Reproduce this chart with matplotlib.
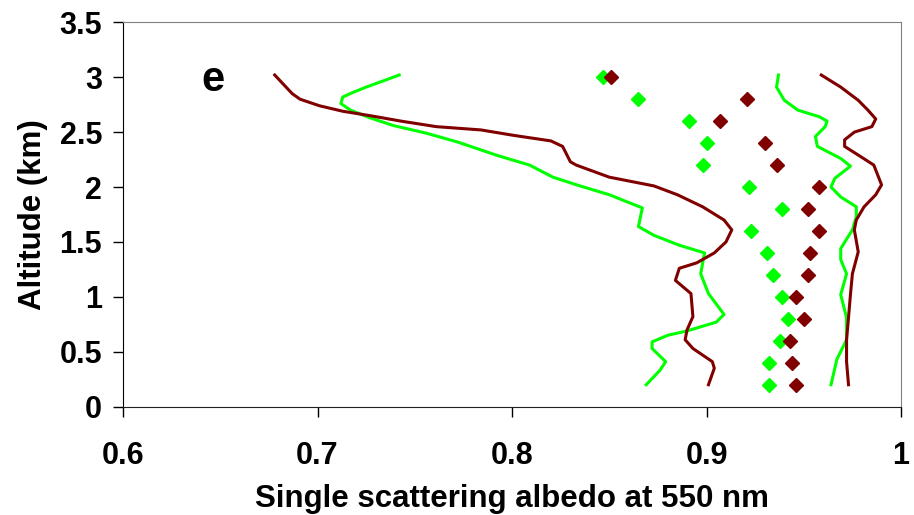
import matplotlib.pyplot as plt

plt.rcParams['font.family'] = ['Liberation Sans', 'DejaVu Sans']

GREEN = "#00ff00"
BROWN = "#800000"

# diamonds, every 0.2 km
alt_pts = [0.2, 0.4, 0.6, 0.8, 1.0, 1.2, 1.4, 1.6, 1.8, 2.0, 2.2, 2.4, 2.6, 2.8, 3.0]
ssa_green_pts = [0.932, 0.932, 0.938, 0.942, 0.939, 0.934, 0.931, 0.923, 0.939, 0.922,
                 0.898, 0.900, 0.891, 0.865, 0.847]
ssa_brown_pts = [0.946, 0.944, 0.943, 0.950, 0.946, 0.952, 0.953, 0.958, 0.952, 0.958,
                 0.936, 0.930, 0.907, 0.921, 0.851]

# left profiles
alt_green_a = [0.20, 0.33, 0.41, 0.53, 0.59, 0.65, 0.69, 0.77, 0.84, 1.03, 1.21, 1.40,
               1.47, 1.56, 1.64, 1.81, 1.93, 2.01, 2.09, 2.20, 2.29, 2.41, 2.49, 2.56,
               2.63, 2.70, 2.76, 2.82, 2.86, 2.91, 3.02]
ssa_green_a = [0.869, 0.876, 0.879, 0.872, 0.872, 0.880, 0.890, 0.905, 0.909, 0.901,
               0.897, 0.899, 0.886, 0.873, 0.865, 0.867, 0.850, 0.835, 0.821, 0.809,
               0.792, 0.772, 0.756, 0.739, 0.727, 0.717, 0.712, 0.713, 0.718, 0.725, 0.742]

alt_brown_a = [0.20, 0.35, 0.41, 0.53, 0.61, 0.70, 0.82, 1.03, 1.15, 1.26, 1.31, 1.40,
               1.50, 1.61, 1.70, 1.82, 1.93, 2.01, 2.09, 2.20, 2.23, 2.37, 2.42, 2.47,
               2.52, 2.55, 2.60, 2.65, 2.69, 2.74, 2.80, 2.85, 3.02]
ssa_brown_a = [0.901, 0.904, 0.903, 0.893, 0.889, 0.890, 0.893, 0.892, 0.884, 0.886,
               0.895, 0.904, 0.910, 0.913, 0.909, 0.898, 0.885, 0.873, 0.850, 0.833,
               0.830, 0.826, 0.820, 0.801, 0.784, 0.761, 0.743, 0.727, 0.713, 0.701,
               0.691, 0.687, 0.678]

# right profiles
alt_green_b = [0.20, 0.43, 0.61, 0.81, 1.02, 1.21, 1.34, 1.44, 1.61, 1.73, 1.82, 1.91,
               2.00, 2.08, 2.19, 2.26, 2.37, 2.46, 2.55, 2.60, 2.64, 2.70, 2.79, 2.91, 3.02]
ssa_green_b = [0.964, 0.967, 0.972, 0.972, 0.969, 0.972, 0.969, 0.969, 0.975, 0.977,
               0.977, 0.969, 0.964, 0.966, 0.974, 0.969, 0.957, 0.956, 0.961, 0.962,
               0.958, 0.947, 0.940, 0.936, 0.937]

alt_brown_b = [0.20, 0.41, 0.61, 0.81, 1.02, 1.21, 1.41, 1.61, 1.70, 1.82, 1.93, 2.02,
               2.20, 2.28, 2.37, 2.43, 2.50, 2.55, 2.62, 2.70, 2.79, 2.91, 3.02]
ssa_brown_b = [0.973, 0.972, 0.972, 0.973, 0.974, 0.975, 0.978, 0.976, 0.977, 0.981,
               0.987, 0.990, 0.986, 0.979, 0.971, 0.971, 0.976, 0.985, 0.987, 0.983,
               0.978, 0.969, 0.959]

fig = plt.figure(figsize=(9.14, 5.15), dpi=100)
ax = fig.add_axes([0.1346, 0.2103, 0.8512, 0.7464])

ax.plot(ssa_green_a, alt_green_a, color=GREEN, lw=2.2)
ax.plot(ssa_brown_a, alt_brown_a, color=BROWN, lw=2.2)
ax.plot(ssa_green_b, alt_green_b, color=GREEN, lw=2.2)
ax.plot(ssa_brown_b, alt_brown_b, color=BROWN, lw=2.2)
ax.plot(ssa_green_pts, alt_pts, ls="none", marker="D", ms=7.5, color=GREEN)
ax.plot(ssa_brown_pts, alt_pts, ls="none", marker="D", ms=7.5, color=BROWN)

ax.set_xlim(0.6, 1.0)
ax.set_ylim(0, 3.5)
ax.set_xticks([0.6, 0.7, 0.8, 0.9, 1.0])
ax.set_xticklabels(["0.6", "0.7", "0.8", "0.9", "1"])
ax.set_yticks([0, 0.5, 1, 1.5, 2, 2.5, 3, 3.5])
ax.set_yticklabels(["0", "0.5", "1", "1.5", "2", "2.5", "3", "3.5"])
ax.tick_params(direction="out", length=7, width=1, labelsize=22)
ax.tick_params(axis="x", pad=18)
ax.tick_params(axis="y", pad=8)
for lab in ax.get_xticklabels() + ax.get_yticklabels():
    lab.set_fontweight("bold")

ax.spines["left"].set_color("black")
ax.spines["bottom"].set_color("#202020")
ax.spines["top"].set_color("#808080")
ax.spines["right"].set_color("#808080")

ax.set_xlabel("Single scattering albedo at 550 nm", fontsize=22.5, fontweight="bold", labelpad=9)
ax.set_ylabel("Altitude (km)", fontsize=22.5, fontweight="bold", labelpad=8)
ax.text(0.6405, 2.87, "e", fontsize=30, fontweight="bold", va="baseline", ha="left")

fig.savefig("out.png", dpi=100)
